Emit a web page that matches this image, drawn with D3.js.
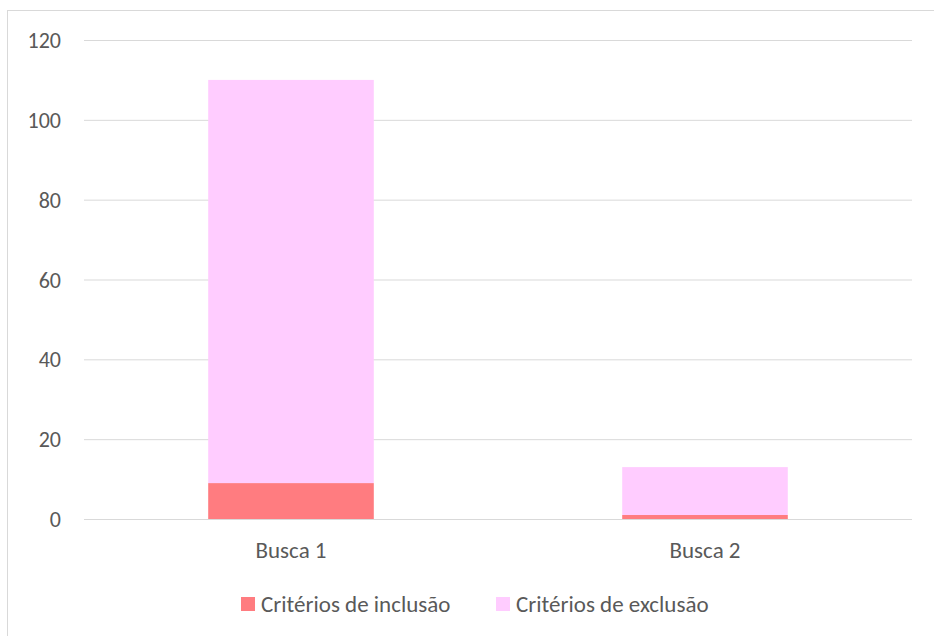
<!DOCTYPE html>
<html>
<head>
<meta charset="utf-8">
<script src="https://cdn.jsdelivr.net/npm/d3@7"></script>
<style>
  body { margin: 0; background: #fff; }
  svg { font-family: Carlito, Lato, "Open Sans", sans-serif; }
</style>
</head>
<body>
<svg width="934" height="636"></svg>
<script>
const categories = ["Busca 1", "Busca 2"];
const seriesNames = ["Critérios de inclusão", "Critérios de exclusão"];
const inclusao = [9, 1];
const exclusao = [101, 12];
const yTicks = [0, 20, 40, 60, 80, 100, 120];
const colors = ["#FF7C80", "#FFCCFF"];

const svgWidth = 934;
const svgHeight = 636;
const margin = {top: 40, right: 22, bottom: 117, left: 84};   // plot area 84..912, 40..519

let rows = categories.map((c, i) => ({cat: c, inc: inclusao[i], exc: exclusao[i]}));
let stack = d3.stack().keys(["inc", "exc"])(rows);

let svg = d3.select("svg");

// chart border (right/bottom edges run off the picture)
svg.append("rect")
  .attr("x", 7.5).attr("y", 10.5)
  .attr("width", 940).attr("height", 640)
  .attr("fill", "none")
  .attr("stroke", "#d9d9d9");

let scaleX = d3.scaleBand().domain(categories)
  .range([margin.left, svgWidth - margin.right])
  .paddingInner(0.6).paddingOuter(0.3);
let scaleY = d3.scaleLinear().domain([0, 120])
  .range([svgHeight - margin.bottom, margin.top]);

// gridlines
svg.append("g")
  .selectAll("line")
  .data(yTicks)
  .enter()
  .append("line")
  .attr("x1", margin.left).attr("x2", svgWidth - margin.right)
  .attr("y1", d => scaleY(d) + 0.5).attr("y2", d => scaleY(d) + 0.5)
  .attr("stroke", "#d9d9d9")
  .attr("stroke-width", 1);

// y labels
svg.append("g")
  .selectAll("text")
  .data(yTicks)
  .enter()
  .append("text")
  .attr("x", 61)
  .attr("y", d => scaleY(d) + 8)
  .attr("text-anchor", "end")
  .attr("font-size", 22)
  .attr("fill", "#595959")
  .text(d => d);

// bars
svg.append("g")
  .selectAll("g")
  .data(stack)
  .enter()
  .append("g")
  .attr("fill", (d, i) => colors[i])
  .selectAll("rect")
  .data(d => d)
  .enter()
  .append("rect")
  .attr("x", d => scaleX(d.data.cat))
  .attr("width", scaleX.bandwidth())
  .attr("y", d => scaleY(d[1]))
  .attr("height", d => scaleY(d[0]) - scaleY(d[1]));

// x labels
svg.append("g")
  .selectAll("text")
  .data(categories)
  .enter()
  .append("text")
  .attr("x", d => scaleX(d) + scaleX.bandwidth() / 2)
  .attr("y", 558)
  .attr("text-anchor", "middle")
  .attr("font-size", 23)
  .attr("fill", "#595959")
  .text(d => d);

// legend
const legendX = [241, 496];
let legend = svg.append("g")
  .selectAll("g")
  .data(seriesNames)
  .enter()
  .append("g")
  .attr("transform", (d, i) => "translate(" + legendX[i] + ",597)");
legend.append("rect")
  .attr("width", 14).attr("height", 14)
  .attr("fill", (d, i) => colors[i]);
legend.append("text")
  .attr("x", 20).attr("y", 15)
  .attr("font-size", 23)
  .attr("fill", "#595959")
  .text(d => d);
</script>
</body>
</html>
